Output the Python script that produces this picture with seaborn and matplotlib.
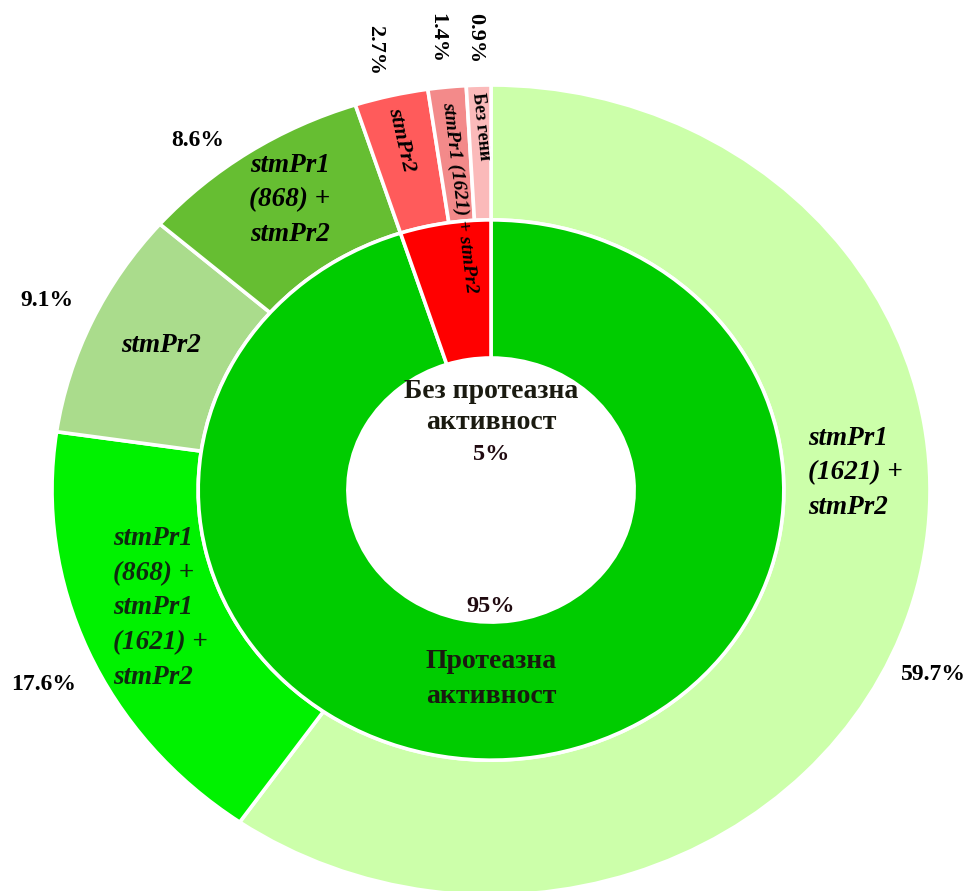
import matplotlib
matplotlib.use("Agg")
import matplotlib.pyplot as plt
import seaborn as sns

# Outer ring: gene combinations (share of isolates, %), clockwise from 12 o'clock
gene_groups = [
    "stmPr1\n(1621) +\nstmPr2",
    "stmPr1\n(868) +\nstmPr1\n(1621) +\nstmPr2",
    "stmPr2",
    "stmPr1\n(868) +\nstmPr2",
    "stmPr2",
    "stmPr1 (1621) + stmPr2",
    "Без гени",
]
gene_shares = [59.7, 17.6, 9.1, 8.6, 2.7, 1.4, 0.9]
gene_pct_labels = ["59.7%", "17.6%", "9.1%", "8.6%", "2.7%", "1.4%", "0.9%"]

# Inner ring: protease activity
activity_groups = ["Протеазна\nактивност", "Без протеазна\nактивност"]
activity_shares = [95, 5]
activity_pct_labels = ["95%", "5%"]

outer_colors = sns.color_palette(
    ["#CCFFAA", "#00F200", "#AADC8C", "#66BE32", "#FF5B5B", "#F38A8A", "#FBBABA"])
inner_colors = sns.color_palette(["#00CC00", "#FF0000"])

sns.set_theme(style="white")
plt.rcParams["font.family"] = ["Liberation Serif", "DejaVu Serif"]

W, H = 966, 891
fig = plt.figure(figsize=(W / 100, H / 100), dpi=100)
ax = fig.add_axes([0, 0, 1, 1])

edge = dict(edgecolor="white", linewidth=2.6)
ax.pie(gene_shares, radius=1.0, startangle=90, counterclock=False,
       colors=outer_colors, wedgeprops=dict(width=0.333, **edge))
ax.pie(activity_shares, radius=0.667, startangle=90, counterclock=False,
       colors=inner_colors, wedgeprops=dict(width=0.341, **edge))

# slightly wider than tall, as in the original layout
ax.set_aspect("auto")
ax.set_xlim(-1.1185, 1.082)
ax.set_ylim(-0.990, 1.2099)
ax.axis("off")


def put(px, py, s, size, style="normal", rot=0, ha="center", color="black", ls=1.5):
    ax.text(px / W, 1 - py / H, s, transform=ax.transAxes, fontsize=size,
            fontweight="bold", fontstyle=style, rotation=rot, ha=ha, va="center",
            rotation_mode="anchor", color=color, linespacing=ls)


# percentage labels around the outer ring
pct_pos = [(933, 674, 0), (44, 685, 0), (47, 301, 0), (198, 140, 0),
           (375, 50, -90), (437, 38, -90), (475, 38, -90)]
for lab, (px, py, r) in zip(gene_pct_labels, pct_pos):
    put(px, py, lab, 17 if r == 0 else 16, rot=r)

# gene labels inside outer wedges
put(808, 473, gene_groups[0], 19.5, "italic", ha="left")
put(113, 608, gene_groups[1], 19.5, "italic", ha="left", color="#0f2a0f")
put(161, 345, gene_groups[2], 19.5, "italic")
put(290, 200, gene_groups[3], 19.5, "italic")
put(401, 140, gene_groups[4], 16, "italic", rot=-77)
put(459, 197, gene_groups[5], 14, "italic", rot=-83)
put(481, 126, gene_groups[6], 13, rot=-84)

# inner ring labels
put(491, 679, activity_groups[0], 20, color="#1a1a10", ls=1.55)
put(491, 607, activity_pct_labels[0], 17.5, color="#200a10")
put(491, 407, activity_groups[1], 20, color="#1a1a10", ls=1.3)
put(491, 455, activity_pct_labels[1], 17.5, color="#200a10")

fig.savefig("out.png", dpi=100, facecolor="white")
